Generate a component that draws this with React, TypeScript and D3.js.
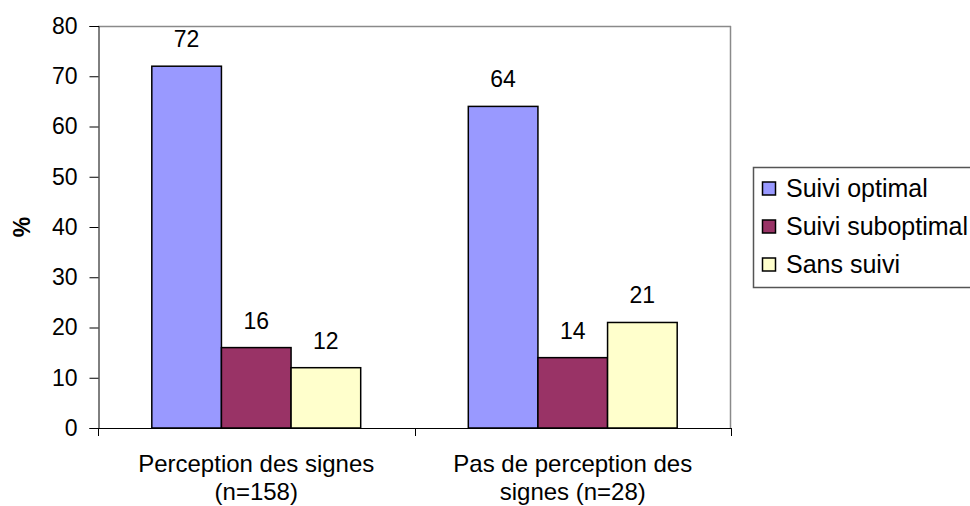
import { useEffect, useRef } from "react";
import * as d3 from "d3";

const categories = [["Perception des signes", "(n=158)"], ["Pas de perception des", "signes (n=28)"]];
const seriesNames = ["Suivi optimal", "Suivi suboptimal", "Sans suivi"];
const seriesColors = ["#9999FF", "#993366", "#FFFFCC"];
const optimal = [72, 64];
const suboptimal = [16, 14];
const sansSuivi = [12, 21];
const yTicks = [0, 10, 20, 30, 40, 50, 60, 70, 80];

const W = 970;
const H = 506;

export const App = () => {
  const ref = useRef<SVGSVGElement>(null);

  useEffect(() => {
    const svg = d3.select(ref.current);
    svg.selectAll("*").remove();

    const left = 98, right = 731, top = 26, bottom = 428;
    const font = "Liberation Sans, Arial, sans-serif";
    const values = [optimal, suboptimal, sansSuivi];

    const x = d3.scaleBand<number>().domain(d3.range(categories.length)).range([left, right]);
    const y = d3.scaleLinear().domain([0, 80]).range([bottom, top]);
    const groupW = x.bandwidth() * 0.66;
    const x1 = d3.scaleBand<number>().domain(d3.range(seriesNames.length)).range([0, groupW]);

    // frame (top + right)
    svg.append("line").attr("x1", left).attr("x2", right).attr("y1", top + 0.5).attr("y2", top + 0.5).attr("stroke", "#8a8a8a").attr("stroke-width", 1.5);
    svg.append("line").attr("x1", right - 0.5).attr("x2", right - 0.5).attr("y1", top).attr("y2", bottom).attr("stroke", "#8a8a8a").attr("stroke-width", 1.5);

    // y axis
    const yAxis = svg.append("g").attr("transform", `translate(${left + 0.5},0)`)
      .call(d3.axisLeft(y).tickValues(yTicks).tickSize(9).tickPadding(12));
    yAxis.select(".domain").attr("stroke", "#000");
    yAxis.selectAll("line").attr("stroke", "#000");
    yAxis.selectAll("text").attr("font-family", font).attr("font-size", 23).attr("fill", "#000");

    // x axis
    svg.append("line").attr("x1", left).attr("x2", right).attr("y1", bottom + 0.5).attr("y2", bottom + 0.5).attr("stroke", "#000");
    const xt = [left, ...d3.range(categories.length).map((i) => (x(i) as number) + x.bandwidth())];
    svg.selectAll(".xtick").data(xt).enter().append("line")
      .attr("x1", (d) => Math.round(d) + 0.5).attr("x2", (d) => Math.round(d) + 0.5)
      .attr("y1", bottom).attr("y2", bottom + 8).attr("stroke", "#000");

    // bars
    categories.forEach((_, ci) => {
      const gx = (x(ci) as number) + (x.bandwidth() - groupW) / 2;
      values.forEach((vals, si) => {
        const v = vals[ci];
        const bx = gx + (x1(si) as number);
        svg.append("rect")
          .attr("x", bx).attr("y", y(v))
          .attr("width", x1.bandwidth()).attr("height", y(0) - y(v))
          .attr("fill", seriesColors[si]).attr("stroke", "#000").attr("stroke-width", 1.5);
        svg.append("text").attr("x", bx + x1.bandwidth() / 2).attr("y", y(v) - 19)
          .attr("text-anchor", "middle").attr("font-family", font).attr("font-size", 23)
          .text(v);
      });
      const lbl = svg.append("text").attr("text-anchor", "middle").attr("font-family", font).attr("font-size", 24);
      categories[ci].forEach((line, li) => {
        lbl.append("tspan").attr("x", (x(ci) as number) + x.bandwidth() / 2).attr("y", 472 + li * 28).text(line);
      });
    });

    // y title
    svg.append("text").attr("transform", `translate(30,${(top + bottom) / 2}) rotate(-90)`)
      .attr("text-anchor", "middle").attr("font-family", font).attr("font-size", 23).attr("font-weight", "bold").text("%");

    // legend
    const lg = svg.append("g");
    lg.append("rect").attr("x", 753.5).attr("y", 167.5).attr("width", 240).attr("height", 120)
      .attr("fill", "#fff").attr("stroke", "#555").attr("stroke-width", 1.5);
    seriesNames.forEach((name, i) => {
      const cy = 188.5 + i * 38;
      lg.append("rect").attr("x", 762.5).attr("y", cy - 6.5).attr("width", 13).attr("height", 13)
        .attr("fill", seriesColors[i]).attr("stroke", "#000").attr("stroke-width", 1.5);
      lg.append("text").attr("x", 786).attr("y", cy + 8.5).attr("font-family", font).attr("font-size", 25).text(name);
    });
  }, []);

  return <svg ref={ref} width={W} height={H} style={{ position: "absolute", left: 0, top: 0, background: "#fff" }} />;
};

export default App;
